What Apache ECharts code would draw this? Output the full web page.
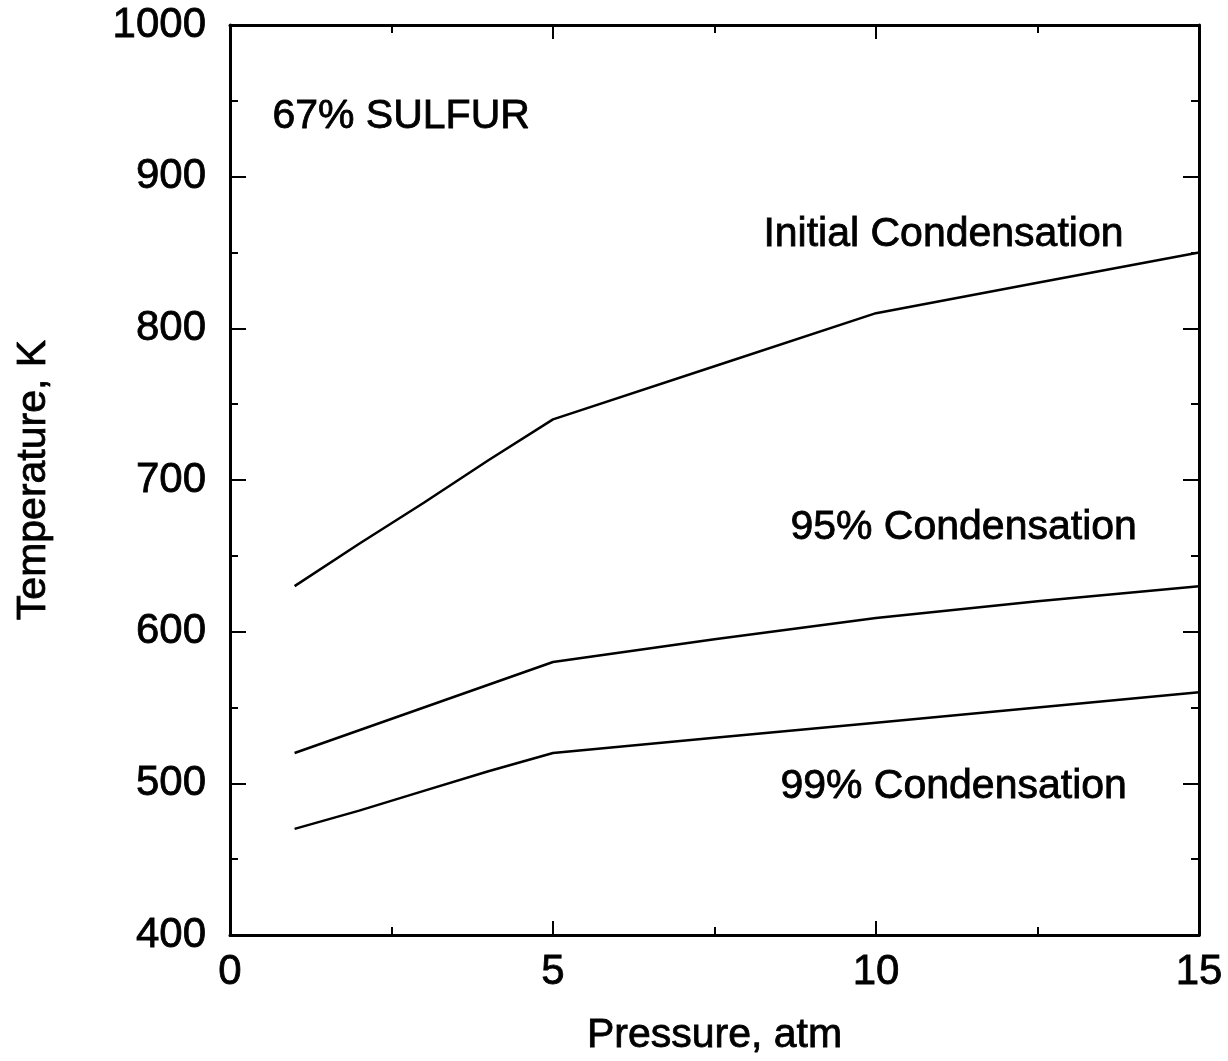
<!DOCTYPE html>
<html>
<head>
<meta charset="utf-8">
<script src="https://cdn.jsdelivr.net/npm/echarts@6/dist/echarts.min.js"></script>
<style>
  html, body { margin: 0; padding: 0; background: #fff; }
  #chart { width: 1228px; height: 1061px; }
</style>
</head>
<body>
<div id="chart"></div>
<script>
// pressure (atm) and condensation temperatures (K)
var pressure = [1, 2, 3, 4, 5, 7.5, 10, 12.5, 15];
var initialCond = [630, 658, 685, 713, 740, 775, 810, 830, 850];
var cond95 = [520, 535, 550, 565, 580, 595, 609, 620, 630];
var cond99 = [470, 482, 495, 508, 520, 530, 540, 550, 560];

var xTicks = [0, 5, 10, 15];
var yTicks = [400, 500, 600, 700, 800, 900, 1000];

var FONT = '"Liberation Sans", Arial, sans-serif';
// scanned text looks a bit heavier than plain Arial
var txt = { color: '#000', fontSize: 41, fontFamily: FONT, textBorderColor: '#000', textBorderWidth: 0.8 };

function pairs(xs, ys) {
    let out = [];
    for (let i = 0; i < xs.length; i++) out.push([xs[i], ys[i]]);
    return out;
}

function mkX(pos, showLabels) {
    return {
        type: 'value', position: pos, min: 0, max: 15, interval: 5,
        axisLine: { show: true, onZero: false, lineStyle: { color: '#000', width: 3 } },
        axisTick: { show: true, inside: true, length: 14, lineStyle: { color: '#000', width: 2 } },
        minorTick: { show: true, splitNumber: 2, length: 8, lineStyle: { color: '#000', width: 2 } },
        splitLine: { show: false },
        axisLabel: Object.assign({
            show: showLabels, margin: 16,
            formatter: function (v) { return xTicks.indexOf(v) >= 0 ? String(v) : ''; }
        }, txt, { fontSize: 42 }),
        name: showLabels ? 'Pressure, atm' : '',
        nameLocation: 'middle', nameGap: 80,
        nameTextStyle: txt
    };
}

function mkY(pos, showLabels) {
    return {
        type: 'value', position: pos, min: 400, max: 1000, interval: 100,
        axisLine: { show: true, onZero: false, lineStyle: { color: '#000', width: 3 } },
        axisTick: { show: true, inside: true, length: 16, lineStyle: { color: '#000', width: 2 } },
        minorTick: { show: true, splitNumber: 2, length: 8, lineStyle: { color: '#000', width: 2 } },
        splitLine: { show: false },
        axisLabel: Object.assign({
            show: showLabels, margin: 24,
            formatter: function (v) { return yTicks.indexOf(v) >= 0 ? String(v) : ''; }
        }, txt, { fontSize: 42 }),
        name: showLabels ? 'Temperature, K' : '',
        nameLocation: 'middle', nameGap: 176,
        nameTextStyle: txt
    };
}

function mkLine(name, ys) {
    return {
        name: name, type: 'line', xAxisIndex: 0, yAxisIndex: 0,
        data: pairs(pressure, ys), showSymbol: false, smooth: false,
        lineStyle: { color: '#000', width: 2.5 }
    };
}

function label(text, x, y) {
    return {
        type: 'text', left: x, top: y,
        style: { text: text, fill: '#000', font: '41px ' + FONT, stroke: '#000', lineWidth: 0.8 }
    };
}

var myChart = echarts.init(document.getElementById('chart'));
var option = {
    backgroundColor: '#fff',
    animation: false,
    grid: { left: 230, right: 29, top: 25, bottom: 126, outerBoundsMode: 'none' },
    xAxis: [mkX('bottom', true), mkX('top', false)],
    yAxis: [mkY('left', true), mkY('right', false)],
    series: [
        mkLine('Initial Condensation', initialCond),
        mkLine('95% Condensation', cond95),
        mkLine('99% Condensation', cond99)
    ],
    graphic: [
        label('67% SULFUR', 272, 96),
        label('Initial Condensation', 763, 214),
        label('95% Condensation', 790, 507),
        label('99% Condensation', 780, 766)
    ]
};
myChart.setOption(option);
</script>
</body>
</html>
